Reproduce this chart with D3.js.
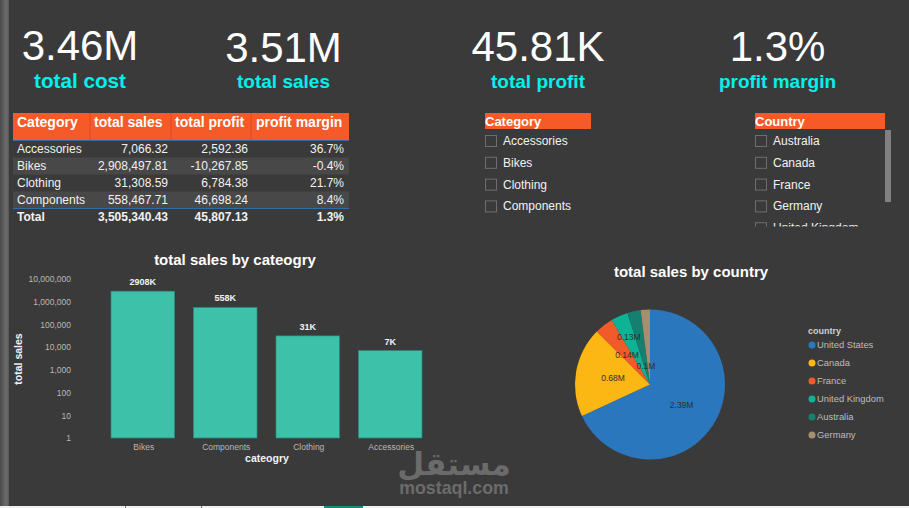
<!DOCTYPE html>
<html>
<head>
<meta charset="utf-8">
<script src="https://cdn.jsdelivr.net/npm/d3@7"></script>
<style>
  html, body { margin: 0; padding: 0; background: #3a3a3a; overflow: hidden; }
  svg { display: block; font-family: "Liberation Sans", Arial, sans-serif; }
</style>
</head>
<body>
<svg></svg>
<script>
// Values
const kpiValues = ["3.46M", "3.51M", "45.81K", "1.3%"];
const kpiLabels = ["total cost", "total sales", "total profit", "profit margin"];

const tableHeaders = ["Category", "total sales", "total profit", "profit margin"];
const tableCategories = ["Accessories", "Bikes", "Clothing", "Components"];
const tableSales = [7066.32, 2908497.81, 31308.59, 558467.71];
const tableProfit = [2592.36, -10267.85, 6784.38, 46698.24];
const tableMargin = [36.7, -0.4, 21.7, 8.4];
const tableTotal = ["Total", "3,505,340.43", "45,807.13", "1.3%"];

const categorySlicer = ["Accessories", "Bikes", "Clothing", "Components"];
const countrySlicer = ["Australia", "Canada", "France", "Germany", "United Kingdom"];

const barCategories = ["Bikes", "Components", "Clothing", "Accessories"];
const barValues = [2908497.81, 558467.71, 31308.59, 7066.32];
const yTicks = [1, 10, 100, 1000, 10000, 100000, 1000000, 10000000];

const countries = ["United States", "Canada", "France", "United Kingdom", "Australia", "Germany"];
const countrySales = [2.39, 0.68, 0.14, 0.13, 0.1, 0.07];
const countryColors = ["#2a77bd", "#fdb714", "#f15a29", "#0db394", "#15806f", "#a68e6f"];

const width = 909;
const height = 508;
const orange = "#f55a28";

const svg = d3.select("svg").attr("width", width).attr("height", height);

svg.append("rect").attr("width", width).attr("height", height).attr("fill", "#3a3a3a");

// Left edge shading of the screenshot
const grad = svg.append("defs").append("linearGradient").attr("id", "edge");
grad.append("stop").attr("offset", "0%").attr("stop-color", "#4a4a4a");
grad.append("stop").attr("offset", "70%").attr("stop-color", "#6e6e6e");
grad.append("stop").attr("offset", "100%").attr("stop-color", "#555");
svg.append("rect").attr("width", 9).attr("height", 506).attr("fill", "url(#edge)");

// Bottom tab strip
svg.append("rect").attr("y", 506).attr("width", width).attr("height", 2).attr("fill", "#f1f1f1");
[125, 201].forEach(x => {
  svg.append("rect").attr("x", x).attr("y", 506).attr("width", 1).attr("height", 2).attr("fill", "#777");
});
svg.append("rect").attr("x", 324).attr("y", 506).attr("width", 39).attr("height", 2).attr("fill", "#1c8a78");

// KPI cards
const kpiX = [80, 283.5, 538, 777.5];
const kpiNumberY = [60, 62, 61, 61];
const kpiLabelSize = [20.7, 19, 19, 19];
const kpiG = svg.append("g").attr("text-anchor", "middle");
kpiValues.forEach((v, i) => {
  kpiG.append("text").attr("x", kpiX[i]).attr("y", kpiNumberY[i])
    .attr("font-size", 42).attr("fill", "#fff").text(v);
  kpiG.append("text").attr("x", kpiX[i]).attr("y", 88)
    .attr("font-size", kpiLabelSize[i]).attr("font-weight", "bold").attr("fill", "#00f0f0").text(kpiLabels[i]);
});

// Table
const fmt = v => d3.format(",.2f")(v).replace("\u2212", "-");
const colLeft = [17, 94, 175, 256];
const colRight = [null, 168, 248, 344];
const rowTop = 140.5, rowH = 17;
const table = svg.append("g");
table.append("rect").attr("x", 13).attr("y", 113).attr("width", 336).attr("height", 27).attr("fill", orange);
[90, 171, 251].forEach(x => {
  table.append("line").attr("x1", x).attr("x2", x).attr("y1", 113).attr("y2", 140)
    .attr("stroke", "#d24d20").attr("stroke-width", 1);
});
tableHeaders.forEach((h, i) => {
  table.append("text").attr("x", colLeft[i]).attr("y", 127)
    .attr("font-size", 14).attr("font-weight", "bold").attr("fill", "#fff").text(h);
});
tableCategories.forEach((c, i) => {
  const y = rowTop + i * rowH;
  if (i % 2 === 1) {
    table.append("rect").attr("x", 13).attr("y", y).attr("width", 336).attr("height", rowH).attr("fill", "#484848");
  }
  const cells = [c, fmt(tableSales[i]), fmt(tableProfit[i]), tableMargin[i].toFixed(1) + "%"];
  cells.forEach((t, j) => {
    table.append("text")
      .attr("x", j === 0 ? colLeft[0] : colRight[j]).attr("y", y + 12)
      .attr("text-anchor", j === 0 ? "start" : "end")
      .attr("font-size", 12).attr("fill", "#f2f2f2").text(t);
  });
});
tableTotal.forEach((t, j) => {
  table.append("text")
    .attr("x", j === 0 ? colLeft[0] : colRight[j]).attr("y", rowTop + 4 * rowH + 12)
    .attr("text-anchor", j === 0 ? "start" : "end")
    .attr("font-size", 12).attr("font-weight", "bold").attr("fill", "#f2f2f2").text(t);
});
[140, 208].forEach(y => {
  table.append("line").attr("x1", 13).attr("x2", 349).attr("y1", y + 0.5).attr("y2", y + 0.5)
    .attr("stroke", "#2f6da8").attr("stroke-width", 1);
});

// Slicers
function slicer(title, items, x, headerWidth, clipId) {
  const g = svg.append("g");
  g.append("rect").attr("x", x).attr("y", 113).attr("width", headerWidth).attr("height", 16).attr("fill", orange);
  g.append("text").attr("x", x).attr("y", 126)
    .attr("font-size", 13).attr("font-weight", "bold").attr("fill", "#fff").text(title);
  svg.select("defs").append("clipPath").attr("id", clipId)
    .append("rect").attr("x", x - 2).attr("y", 130).attr("width", headerWidth).attr("height", 96.5);
  const list = g.append("g").attr("clip-path", `url(#${clipId})`);
  items.forEach((t, i) => {
    const y = 135.5 + i * 21.8;
    list.append("rect").attr("x", x + 0.5).attr("y", y).attr("width", 11).attr("height", 11)
      .attr("fill", "none").attr("stroke", "#6e6e6e");
    list.append("text").attr("x", x + 18).attr("y", y + 9.5)
      .attr("font-size", 12).attr("fill", "#f2f2f2").text(t);
  });
}
slicer("Category", categorySlicer, 485, 106, "clip-cat");
slicer("Country", countrySlicer, 755, 130, "clip-country");
svg.append("rect").attr("x", 885).attr("y", 130).attr("width", 6).attr("height", 72).attr("fill", "#808080");

// Bar chart
const x = d3.scaleBand().domain(barCategories).range([111, 422]).paddingInner(0.23);
const y = d3.scaleLog().domain([1, 10000000]).range([438, 279]);

svg.append("text").attr("x", 235).attr("y", 265).attr("text-anchor", "middle")
  .attr("font-size", 15).attr("font-weight", "bold").attr("fill", "#fff").text("total sales by cateogry");

const yAxis = svg.append("g").attr("transform", "translate(74,0)")
  .call(d3.axisLeft(y).tickValues(yTicks).tickFormat(d3.format(",")).tickSize(0));
yAxis.select(".domain").remove();
yAxis.selectAll("text").attr("font-family", "Liberation Sans").attr("font-size", 8.5).attr("fill", "#b8b8b8");

const xAxis = svg.append("g").attr("transform", "translate(1,438)")
  .call(d3.axisBottom(x).tickSize(0).tickPadding(6));
xAxis.select(".domain").remove();
xAxis.selectAll("text").attr("font-family", "Liberation Sans").attr("font-size", 8.5).attr("fill", "#b8b8b8");

svg.selectAll(".bar").data(barCategories).enter().append("rect")
  .attr("class", "bar")
  .attr("x", d => x(d))
  .attr("y", (d, i) => y(barValues[i]))
  .attr("width", x.bandwidth())
  .attr("height", (d, i) => 438 - y(barValues[i]))
  .attr("fill", "#3dc1a9")
  .attr("stroke", "#2a8a7a")
  .attr("stroke-width", 0.7);

svg.selectAll(".bar-label").data(barCategories).enter().append("text")
  .attr("class", "bar-label")
  .attr("x", d => x(d) + x.bandwidth() / 2)
  .attr("y", (d, i) => y(barValues[i]) - 6)
  .attr("text-anchor", "middle")
  .attr("font-size", 9).attr("font-weight", "bold").attr("fill", "#f2f2f2")
  .text((d, i) => Math.round(barValues[i] / 1000) + "K");

svg.append("text").attr("transform", "translate(22,359) rotate(-90)").attr("text-anchor", "middle")
  .attr("font-size", 10.5).attr("font-weight", "bold").attr("fill", "#f2f2f2").text("total sales");
svg.append("text").attr("x", 267).attr("y", 462).attr("text-anchor", "middle")
  .attr("font-size", 10.5).attr("font-weight", "bold").attr("fill", "#f2f2f2").text("cateogry");

// Pie chart
const radius = 75;
const pie = d3.pie().sort(null)(countrySales);
const arc = d3.arc().innerRadius(0).outerRadius(radius);
const pieG = svg.append("g").attr("transform", "translate(650,384.5)");

svg.append("text").attr("x", 691).attr("y", 277).attr("text-anchor", "middle")
  .attr("font-size", 15).attr("font-weight", "bold").attr("fill", "#fff").text("total sales by country");

pieG.selectAll("path").data(pie).enter().append("path")
  .attr("d", arc)
  .attr("fill", (d, i) => countryColors[i]);

// Germany has no label, the small slices are pushed in or out of the way
const labelRadius = [37.5, 37.5, 37.5, 52, 19, null];
pieG.selectAll(".pie-label").data(pie).enter().filter((d, i) => labelRadius[i] !== null)
  .append("text")
  .attr("class", "pie-label")
  .attr("transform", d => {
    const r = labelRadius[d.index];
    const a = (d.startAngle + d.endAngle) / 2;
    return `translate(${Math.sin(a) * r},${-Math.cos(a) * r + 3})`;
  })
  .attr("text-anchor", "middle")
  .attr("font-size", 8.5).attr("fill", "#2f2f2f")
  .text(d => d.value + "M");

// Legend
const legend = svg.append("g");
legend.append("text").attr("x", 808).attr("y", 334)
  .attr("font-size", 9).attr("font-weight", "bold").attr("fill", "#cfcfcf").text("country");
countries.forEach((c, i) => {
  const ly = 345 + i * 18;
  legend.append("circle").attr("cx", 812).attr("cy", ly).attr("r", 3.5).attr("fill", countryColors[i]);
  legend.append("text").attr("x", 817).attr("y", ly + 3)
    .attr("font-size", 9.4).attr("fill", "#bdbdbd").text(c);
});

// Watermark
svg.append("text").attr("x", 454).attr("y", 475).attr("text-anchor", "middle")
  .attr("font-family", "DejaVu Sans").attr("font-size", 31).attr("font-weight", "bold")
  .attr("fill", "#6b6b6b").text("مستقل");
svg.append("text").attr("x", 454).attr("y", 494).attr("text-anchor", "middle")
  .attr("font-size", 17.8).attr("font-weight", "bold").attr("fill", "#6b6b6b").text("mostaql.com");
</script>
</body>
</html>
